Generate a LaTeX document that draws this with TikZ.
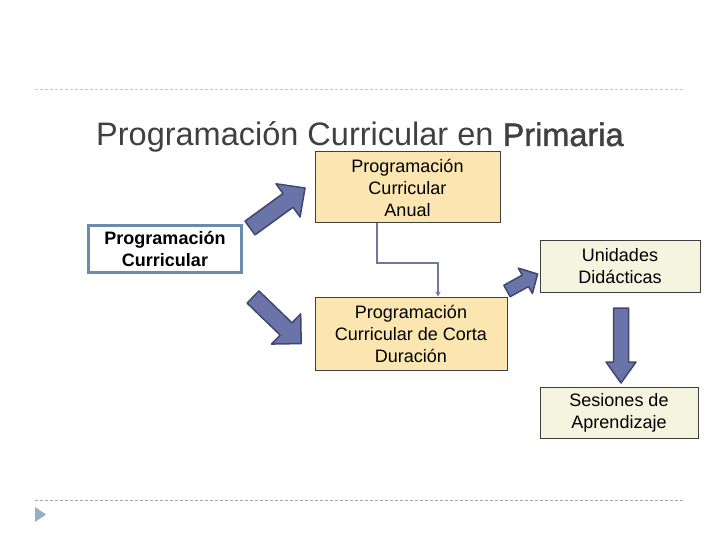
\documentclass[tikz,border=0pt]{standalone}
\usepackage{fontspec}
\setmainfont{Liberation Sans}
\newfontfamily\semib[FakeBold=1.3]{Liberation Sans}
\usetikzlibrary{arrows.meta}
\definecolor{titlegray}{HTML}{404040}
\definecolor{yelfill}{HTML}{FBE6B2}
\definecolor{beigefill}{HTML}{F4F4DF}
\definecolor{boxline}{HTML}{3F3F3F}
\definecolor{bluebord}{HTML}{6A8CAF}
\definecolor{arrfill}{HTML}{6A74A8}
\definecolor{arrline}{HTML}{3E476F}
\definecolor{connline}{HTML}{6E77A0}
\definecolor{dashgray}{HTML}{C4C8CC}
\definecolor{trifill}{HTML}{95AECB}
\tikzset{
  boxtxt/.style={align=center, font=\fontsize{18}{22}\selectfont, inner sep=0pt, text=black},
  ybox/.style={boxtxt, draw=boxline, line width=1pt, fill=yelfill},
  bbox/.style={boxtxt, draw=boxline, line width=1pt, fill=beigefill},
  lbox/.style={boxtxt, draw=bluebord, line width=3pt, fill=white, font=\fontsize{18}{22}\selectfont\bfseries},
  barrow/.style={fill=arrfill, draw=arrline, line width=1.5pt, line join=round},
  sepline/.style={dashgray, line width=1pt, dash pattern=on 3pt off 2pt}
}
\newcommand{\blockarr}[7]{% tail x,y ; angle ; length ; shaft half ; head half ; head length
  \begin{scope}[shift={(#1,#2)}, rotate=#3]
    \draw[barrow] (0,-#5) -- (#4-#7,-#5) -- (#4-#7,-#6) -- (#4,0) -- (#4-#7,#6) -- (#4-#7,#5) -- (0,#5) -- cycle;
  \end{scope}}
\begin{document}
\begin{tikzpicture}[x=1pt,y=-1pt]
\useasboundingbox (0,0) rectangle (720,540);
\fill[white] (0,0) rectangle (720,540);

% separator lines and bullet
\draw[sepline] (35,90) -- (685,90);
\draw[sepline, draw=gray!70] (35,500) -- (685,500);
\fill[trifill] (35,507) -- (46,514.5) -- (35,522) -- cycle;

% title
\node[anchor=base west, inner sep=0pt, text=titlegray, font=\fontsize{32.5}{38}\selectfont] (title) at (96,146)
  {Programación Curricular en {\semib Primaria}};

% boxes
\node[lbox, minimum width=153pt, minimum height=47pt] (PC) at (165,249) {Programación\\Curricular};
\node[ybox, minimum width=185pt, minimum height=71pt] (PCA) at (407.5,187.5) {Programación\\Curricular\\Anual};
\node[ybox, minimum width=192pt, minimum height=73pt] (PCD) at (411,333.5) {Programación\\Curricular de Corta\\Duración};
\node[bbox, minimum width=160pt, minimum height=52pt] (UD) at (620,266) {Unidades\\Didácticas};
\node[bbox, minimum width=158pt, minimum height=51pt] (SA) at (619,412.5) {Sesiones de\\Aprendizaje};

% connector
\draw[connline, line width=2pt, -{Stealth[length=5pt,width=5pt]}]
  ([xshift=-30.5pt]PCA.south) -- ++(0,39) -| ([xshift=27pt]PCD.north);

% block arrows
\blockarr{250}{228}{36}{68}{8.5}{20.5}{21}
\blockarr{253}{297}{-44}{67}{8.5}{21}{21}
\blockarr{507}{291}{29}{35}{6.5}{14.5}{14}
\blockarr{621}{308}{-90}{75}{7.5}{15}{21}
\end{tikzpicture}
\end{document}
